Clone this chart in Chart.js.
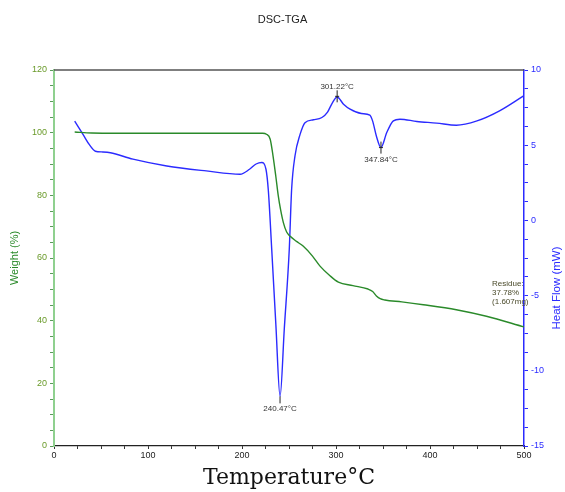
<!DOCTYPE html>
<html>
<head>
<meta charset="utf-8">
<script src="https://cdn.jsdelivr.net/npm/chart.js@4"></script>
<style>
  body { margin: 0; background: #fff; }
  canvas { display: block; }
</style>
</head>
<body>
<canvas id="dscChart" width="565" height="492"></canvas>
<script>
// DSC heat flow curve (blue, right axis)
const dscTemp = [22, 25, 31, 38, 44, 52, 60, 84, 120, 162, 198, 208, 215, 221, 225.5, 228, 231.6, 236, 240.5, 245, 250.3, 252.8, 256.4, 261.7, 267, 276, 285, 291, 296, 301.2, 308, 315, 327, 336, 339, 343, 347.8, 354, 361, 368, 386, 407, 428, 450, 474, 500];
const dscHeat = [6.6, 6.3, 5.7, 5.0, 4.6, 4.55, 4.5, 4.07, 3.62, 3.29, 3.07, 3.4, 3.75, 3.85, 3.4, 2.0, -1.9, -6.9, -11.7, -7.2, -1.9, 2.07, 4.3, 5.7, 6.5, 6.69, 6.84, 7.2, 7.8, 8.2, 7.73, 7.4, 7.11, 7.0, 6.6, 5.6, 4.84, 5.84, 6.62, 6.73, 6.58, 6.47, 6.33, 6.62, 7.29, 8.3];

// TGA weight curve (green, left axis)
const tgaTemp = [22, 40, 100, 200, 222, 226, 230, 233, 236, 238.6, 241, 244, 247.5, 251, 258, 265, 275, 283, 293, 302.5, 318, 334, 339, 343, 347, 352, 370, 393, 428, 460, 500];
const tgaWeight = [100.2, 99.9, 99.8, 99.8, 99.8, 99.5, 97.9, 92.6, 86, 79.8, 75.5, 71.3, 68.3, 67, 65.3, 63.8, 60.6, 57.4, 54.5, 52.3, 51.2, 50.1, 49.3, 47.9, 47, 46.6, 46, 45.1, 43.5, 41.4, 38.0];

// peak labels: temperature, heat flow, label
const peakTemp = [240.47, 301.22, 347.84];
const peakHeat = [-11.7, 8.25, 4.84];
const peakLabels = ["240.47°C", "301.22°C", "347.84°C"];
const residueLines = ["Residue:", "37.78%", "(1.607mg)"];

const blue = "#2b2bff";
const green = "#2a8a2a";

const toPoints = (xs, ys) => xs.map((x, i) => ({ x: x, y: ys[i] }));

// extra drawing: top frame line, right axis title, peak marks, residue note
const extras = {
  id: "extras",
  afterDraw(chart) {
    const c = chart.ctx;
    const area = chart.chartArea;
    const sx = chart.scales.x, sr = chart.scales.yR, sl = chart.scales.yL;
    c.save();

    c.strokeStyle = "#555";
    c.lineWidth = 1.5;
    c.beginPath();
    c.moveTo(area.left, area.top);
    c.lineTo(area.right, area.top);
    c.stroke();

    c.fillStyle = blue;
    c.font = "11.5px 'Liberation Sans', Arial";
    c.textAlign = "center";
    c.textBaseline = "middle";
    c.translate(557, 288);
    c.rotate(-Math.PI / 2);
    c.fillText("Heat Flow (mW)", 0, 0);
    c.setTransform(1, 0, 0, 1, 0, 0);

    c.font = "8px 'Liberation Sans', Arial";
    c.fillStyle = "#333";
    c.strokeStyle = "#222";
    c.lineWidth = 1;
    peakLabels.forEach((lab, i) => {
      const px = sx.getPixelForValue(peakTemp[i]);
      const py = sr.getPixelForValue(peakHeat[i]);
      c.beginPath();
      if (i === 0) {
        c.moveTo(px, py);
        c.lineTo(px, py + 7);
      } else {
        c.moveTo(px, py - 6);
        c.lineTo(px, py + 6);
        c.moveTo(px - 2, py);
        c.lineTo(px + 2, py);
      }
      c.stroke();
      c.fillText(lab, px, i === 1 ? py - 10 : py + 12);
    });

    c.textAlign = "left";
    c.fillStyle = "#4a4a2a";
    const rx = sx.getPixelForValue(466);
    const ry = sl.getPixelForValue(51.8);
    residueLines.forEach((t, i) => c.fillText(t, rx, ry + i * 9));

    c.restore();
  }
};

new Chart(document.getElementById("dscChart"), {
  type: "line",
  data: {
    datasets: [
      {
        label: "Weight",
        data: toPoints(tgaTemp, tgaWeight),
        yAxisID: "yL",
        borderColor: green,
        borderWidth: 1.4,
        pointRadius: 0,
        cubicInterpolationMode: "monotone"
      },
      {
        label: "Heat Flow",
        data: toPoints(dscTemp, dscHeat),
        yAxisID: "yR",
        borderColor: blue,
        borderWidth: 1.4,
        pointRadius: 0,
        cubicInterpolationMode: "monotone"
      }
    ]
  },
  plugins: [extras],
  options: {
    responsive: false,
    animation: false,
    layout: { padding: 0 },
    plugins: {
      legend: { display: false },
      tooltip: { enabled: false },
      title: {
        display: true,
        text: "DSC-TGA",
        color: "#222",
        font: { family: "'Liberation Sans', Arial", size: 11, weight: "normal" },
        padding: { top: 13, bottom: 43.8 }
      }
    },
    scales: {
      x: {
        type: "linear",
        min: 0,
        max: 500,
        afterFit: s => { s.height = 46; },
        border: { color: "#222", width: 1.2 },
        grid: { drawOnChartArea: false, tickLength: 3, tickColor: "#333" },
        ticks: {
          stepSize: 25,
          autoSkip: false,
          maxRotation: 0,
          padding: 1,
          color: "#222",
          font: { family: "'Liberation Sans', Arial", size: 9 },
          callback: v => (v % 100 === 0 ? v : "")
        },
        title: {
          display: true,
          text: "Temperature°C",
          color: "#111",
          font: { family: "'DejaVu Serif', serif", size: 22 },
          padding: { top: 0, bottom: 1 }
        }
      },
      yL: {
        position: "left",
        min: 0,
        max: 120,
        afterFit: s => { s.width = 54; },
        border: { color: "#8fd08f", width: 2 },
        grid: { drawOnChartArea: false, tickLength: 4, tickColor: "#5a9a5a" },
        ticks: {
          stepSize: 5,
          autoSkip: false,
          padding: 3,
          color: "#6a9a2a",
          font: { family: "'Liberation Sans', Arial", size: 9 },
          callback: v => (v % 20 === 0 ? v : "")
        },
        title: {
          display: true,
          text: "Weight (%)",
          color: green,
          font: { family: "'Liberation Sans', Arial", size: 11 },
          padding: { top: 8, bottom: 0 }
        }
      },
      yR: {
        position: "right",
        min: -15,
        max: 10,
        afterFit: s => { s.width = 41; },
        border: { color: blue, width: 1.5 },
        grid: { drawOnChartArea: false, tickLength: 4, tickColor: blue },
        ticks: {
          stepSize: 1.25,
          autoSkip: false,
          padding: 3,
          color: blue,
          font: { family: "'Liberation Sans', Arial", size: 9 },
          callback: v => (v % 5 === 0 ? v : "")
        }
      }
    }
  }
});
</script>
</body>
</html>
